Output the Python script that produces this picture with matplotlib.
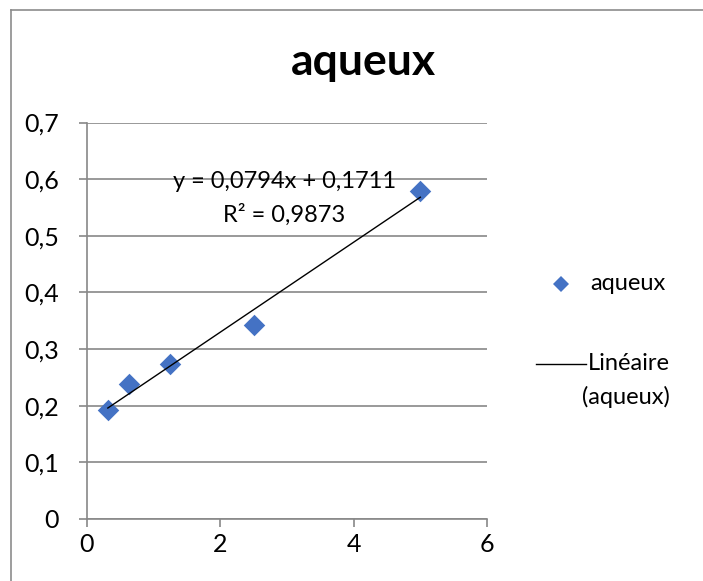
import numpy as np
import matplotlib.pyplot as plt
from matplotlib.lines import Line2D

plt.rcParams['font.family'] = ['Lato', 'DejaVu Sans']

# data
conc = [0.3125, 0.625, 1.25, 2.5, 5.0]
absorb = [0.193, 0.238, 0.273, 0.343, 0.579]
slope, intercept = 0.0794, 0.1711
r2 = 0.9873

blue = '#4472C4'
grid = '#888888'

fig = plt.figure(figsize=(7.03, 5.81), dpi=100)
ax = fig.add_axes([87/703, 62/581, 400/703, 396.5/581])

# chart border (top + left visible)
fig.add_artist(Line2D([11/703, 1], [1 - 10/581, 1 - 10/581], color='#8c8c8c', lw=1.2))
fig.add_artist(Line2D([11/703, 11/703], [0, 1 - 10/581], color='#8c8c8c', lw=1.2))

ax.scatter(conc, absorb, marker='D', s=120, color=blue, zorder=3, linewidths=0)
xf = np.array([conc[0], conc[-1]])
ax.plot(xf, slope*xf + intercept, color='black', lw=1, zorder=4)

ax.set_xlim(0, 6)
ax.set_ylim(0, 0.7)
ax.set_xticks([0, 2, 4, 6])
ax.set_yticks(np.arange(0, 0.71, 0.1))
ax.set_xticklabels(['0', '2', '4', '6'])
ax.set_yticklabels([f'{v:.1f}'.replace('.', ',') if v > 0 else '0' for v in np.arange(0, 0.71, 0.1)])
ax.grid(axis='y', color=grid, lw=1.2)
ax.set_axisbelow(True)
for s in ['top', 'right']:
    ax.spines[s].set_visible(False)
for s in ['left', 'bottom']:
    ax.spines[s].set_color(grid)
    ax.spines[s].set_linewidth(1.2)
ax.tick_params(axis='both', direction='out', length=6, width=1.2, color=grid,
               labelsize=18, pad=4)
ax.tick_params(axis='y', pad=14)

ax.text(2.96, 0.595, f'y = {slope:.4f}x + {intercept:.4f}'.replace('.', ','),
        ha='center', va='center', fontsize=17)
ax.text(2.96, 0.537, f'R² = {r2:.4f}'.replace('.', ','),
        ha='center', va='center', fontsize=17)

fig.text(363/703, 1 - 62/581, 'aqueux', ha='center', va='center',
         fontsize=32, fontweight='bold')

# legend
fig.add_artist(Line2D([561/703], [1 - 284/581], marker='D', markersize=8,
                      color=blue, markeredgewidth=0, linestyle='none'))
fig.text(590/703, 1 - 284/581, 'aqueux', ha='left', va='center', fontsize=17)
fig.add_artist(Line2D([536/703, 586/703], [1 - 364/581, 1 - 364/581], color='black', lw=1))
fig.text(588/703, 1 - 364/581, 'Linéaire', ha='left', va='center', fontsize=17)
fig.text(582/703, 1 - 397/581, '(aqueux)', ha='left', va='center', fontsize=17)

fig.savefig('out.png', dpi=100)
